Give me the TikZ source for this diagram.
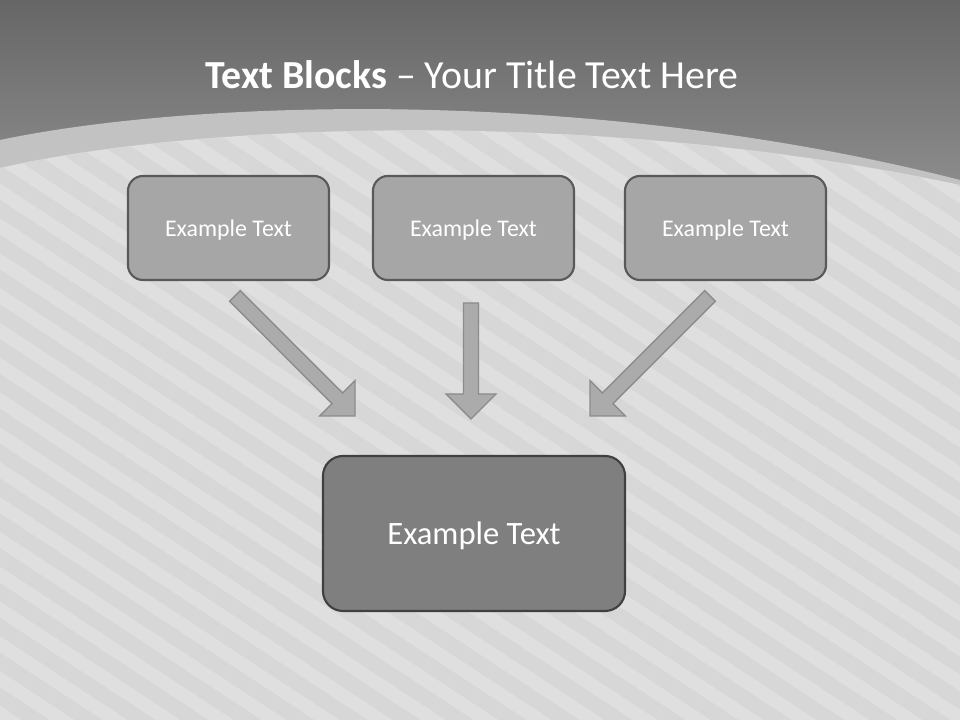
\documentclass[tikz,border=0pt]{standalone}
\usepackage{fontspec}
\setmainfont{Carlito}
\usetikzlibrary{calc}
\definecolor{topdark}{HTML}{666666}
\definecolor{toplight}{HTML}{939393}
\definecolor{bandgray}{HTML}{C2C2C2}
\definecolor{paper}{HTML}{DFDFDF}
\definecolor{stripegray}{HTML}{D7D7D7}
\definecolor{blockfill}{HTML}{A6A6A6}
\definecolor{blockline}{HTML}{595959}
\definecolor{mainfill}{HTML}{7F7F7F}
\definecolor{mainline}{HTML}{404040}
\definecolor{arrowfill}{HTML}{ABABAB}
\definecolor{arrowline}{HTML}{8C8C8C}
\tikzset{
	block/.style={draw=blockline, fill=blockfill, line width=1.5pt, rounded corners=0.375cm,
		minimum width=5.025cm, minimum height=2.6cm, text=white,
		font=\fontsize{17}{20}\selectfont},
	mainblock/.style={block, draw=mainline, fill=mainfill, rounded corners=0.5cm,
		minimum width=7.55cm, minimum height=3.875cm, font=\fontsize{23.2}{27}\selectfont},
	blockarrow/.style={draw=arrowline, fill=arrowfill, line width=1pt},
	stripe/.style={stripegray, line width=0.38cm}
}
\def\blockarrow[#1](#2)(#3){
	\coordinate (#2-base) at ($(#3)!0.625cm!(#2)$);
	\draw[#1] ($(#2)!0.1875cm!90:(#3)$) -- ($(#2-base)!0.1875cm!90:(#3)$)
		-- ($(#2-base)!0.625cm!90:(#3)$) -- (#3) -- ($(#2-base)!0.625cm!-90:(#3)$)
		-- ($(#2-base)!0.1875cm!-90:(#3)$) -- ($(#2)!0.1875cm!-90:(#3)$) -- cycle;
}

\begin{document}
\begin{tikzpicture}[x=0.025cm, y=0.025cm]
		%%%%% BACKGROUND %%%%%
		\useasboundingbox (0, 0) rectangle (960, 720);
		\shade[top color=topdark, bottom color=toplight] (0, 500) rectangle (960, 720);
		\fill[toplight] (0, 0) rectangle (960, 500);
		
		\fill[bandgray] (0, 580) .. controls (200, 622) and (600, 632) .. (960, 540)
			-- (960, 0) -- (0, 0) -- cycle;
		
		\begin{scope}
			\clip (0, 552) .. controls (200, 598) and (600, 612) .. (960, 535)
				-- (960, 0) -- (0, 0) -- cycle;
			\fill[paper] (0, 0) rectangle (960, 720);
			\foreach \i in {-20,...,19}
				\draw[stripe] (\i*53, 720) -- ++(1400, -920);
		\end{scope}
		
		%%%%% TITLE %%%%%
		\node[anchor=base, text=white, font=\fontsize{28.3}{32}\selectfont] (title) at (472, 631)
			{\textbf{Text Blocks} -- Your Title Text Here};
		
		%%%%% BLOCKS %%%%%
		\node[block, text depth=-2pt] (left) at (228.5, 492) {Example Text};
		\node[block, text depth=-2pt] (middle) at (473.5, 492) {Example Text};
		\node[block, text depth=-2pt] (right) at (725.5, 492) {Example Text};
		\node[mainblock, text depth=-2pt] (result) at (474, 186.5) {Example Text};
		
		%%%%% ARROWS %%%%%
		\coordinate (lefttail) at (235, 424);
		\coordinate (lefttip) at (355, 304);
		\coordinate (middletail) at (471, 417);
		\coordinate (middletip) at (471, 301);
		\coordinate (righttail) at (710, 424);
		\coordinate (righttip) at (590, 304);
		
		\blockarrow[blockarrow](lefttail)(lefttip)
		\blockarrow[blockarrow](middletail)(middletip)
		\blockarrow[blockarrow](righttail)(righttip)
		%%%%% END %%%%%
	\end{tikzpicture}
\end{document}
